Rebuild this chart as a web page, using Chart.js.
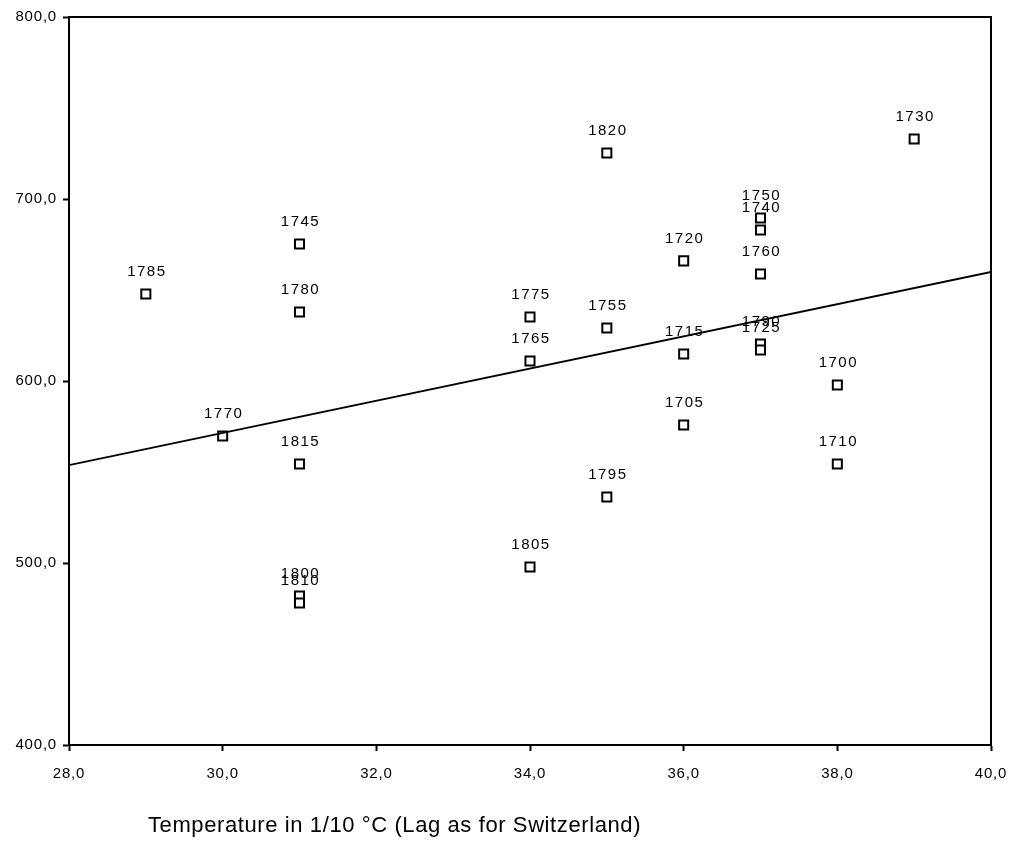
<!DOCTYPE html>
<html>
<head>
<meta charset="utf-8">
<script src="https://cdn.jsdelivr.net/npm/chart.js@4"></script>
<style>
  html, body { margin: 0; padding: 0; background: #fff; }
  #wrap { width: 1016px; height: 854px; }
</style>
</head>
<body>
<div id="wrap"><canvas id="c" width="1016" height="854"></canvas></div>
<script>
// Year labels, temperature (1/10 °C) and the paired value for each year
const years = ['1785','1745','1780','1770','1815','1800','1810','1775','1765','1805',
               '1820','1755','1795','1720','1715','1705','1750','1740','1760','1790',
               '1725','1700','1710','1730'];
const temps = [29, 31, 31, 30, 31, 31, 31, 34, 34, 34,
               35, 35, 35, 36, 36, 36, 37, 37, 37, 37,
               37, 38, 38, 39];
const values = [647.8, 675.3, 637.9, 569.8, 554.4, 481.9, 478.0, 635.2, 611.0, 497.8,
                725.3, 629.1, 536.3, 666.0, 614.8, 575.8, 689.6, 683.0, 658.8, 620.3,
                617.0, 597.8, 554.4, 733.0];

// Fitted line end points
const fitX = [28, 40];
const fitY = [553.8, 659.9];

const xTicks = [28, 30, 32, 34, 36, 38, 40];
const yTicks = [400, 500, 600, 700, 800];

const axisTitle = 'Temperature in 1/10 °C (Lag as for Switzerland)';
const FONT = 'Arial, "Liberation Sans", sans-serif';

const fmt = v => v.toFixed(1).replace('.', ',');

// Slightly spaced-out glyphs for all canvas text
const spacingPlugin = {
  id: 'spacing',
  beforeDraw(chart) { chart.ctx.letterSpacing = '0.8px'; }
};

const framePlugin = {
  id: 'frame',
  afterDraw(chart) {
    const { ctx, chartArea: a } = chart;
    ctx.save();
    ctx.strokeStyle = '#000';
    ctx.lineWidth = 2;
    ctx.strokeRect(a.left, a.top, a.right - a.left, a.bottom - a.top);
    ctx.fillStyle = '#000';
    ctx.font = '22px ' + FONT;
    ctx.letterSpacing = '0.6px';
    ctx.textAlign = 'left';
    ctx.textBaseline = 'middle';
    ctx.fillText(axisTitle, 148, 826);
    ctx.restore();
  }
};

const labelPlugin = {
  id: 'pointLabels',
  afterDatasetsDraw(chart) {
    const { ctx } = chart;
    const meta = chart.getDatasetMeta(1);
    ctx.save();
    ctx.fillStyle = '#000';
    ctx.font = '15px ' + FONT;
    ctx.letterSpacing = '1.5px';
    ctx.textAlign = 'center';
    ctx.textBaseline = 'middle';
    meta.data.forEach((pt, i) => {
      ctx.fillText(years[i], pt.x + 1, pt.y - 22);
    });
    ctx.restore();
  }
};

new Chart(document.getElementById('c'), {
  type: 'scatter',
  data: {
    datasets: [
      {
        type: 'line',
        data: fitX.map((x, i) => ({ x, y: fitY[i] })),
        borderColor: '#000',
        borderWidth: 1.8,
        pointRadius: 0,
        fill: false
      },
      {
        data: temps.map((x, i) => ({ x, y: values[i] })),
        pointStyle: 'rect',
        pointRadius: 6.4,
        pointBorderWidth: 2,
        pointBorderColor: '#000',
        pointBackgroundColor: 'rgba(255,255,255,1)'
      }
    ]
  },
  options: {
    responsive: false,
    animation: false,
    layout: { padding: { left: 0, top: 17, right: 25, bottom: 0 } },
    plugins: { legend: { display: false }, tooltip: { enabled: false } },
    scales: {
      x: {
        type: 'linear',
        min: 28, max: 40,
        afterBuildTicks(axis) { axis.ticks = xTicks.map(v => ({ value: v })); },
        afterFit(axis) {
          axis.height = 109;
          axis.paddingLeft = 0;
          axis.paddingRight = 0;
        },
        ticks: {
          color: '#000',
          font: { size: 15, family: FONT },
          padding: 14,
          maxRotation: 0,
          callback: v => fmt(v)
        },
        grid: { drawOnChartArea: false, tickLength: 6, color: '#000', tickWidth: 2 },
        border: { color: '#000', width: 2 }
      },
      y: {
        type: 'linear',
        min: 400, max: 800,
        afterBuildTicks(axis) { axis.ticks = yTicks.map(v => ({ value: v })); },
        afterFit(axis) {
          axis.width = 69;
          axis.paddingTop = 0;
          axis.paddingBottom = 0;
        },
        ticks: {
          color: '#000',
          font: { size: 15, family: FONT },
          padding: 6,
          callback: v => fmt(v)
        },
        grid: { drawOnChartArea: false, tickLength: 6, color: '#000', tickWidth: 2 },
        border: { color: '#000', width: 2 }
      }
    }
  },
  plugins: [spacingPlugin, framePlugin, labelPlugin]
});
</script>
</body>
</html>
